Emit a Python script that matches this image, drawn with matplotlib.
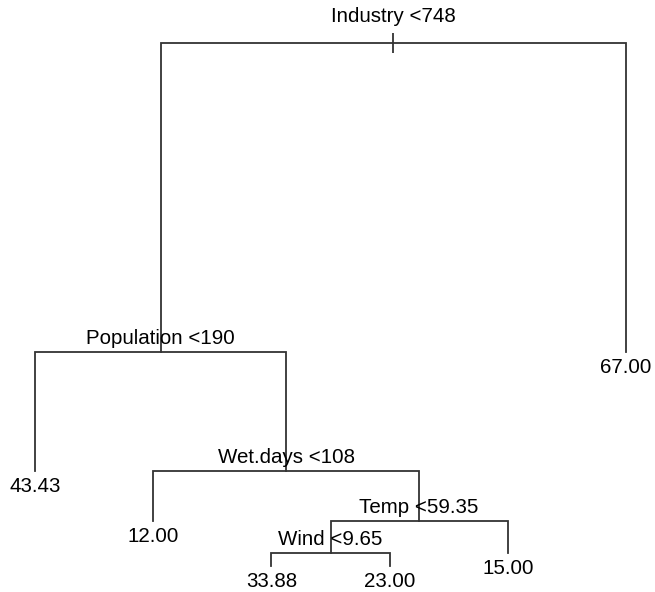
import matplotlib
matplotlib.use('Agg')
import matplotlib.pyplot as plt

plt.rcParams['font.family'] = ['Liberation Sans', 'DejaVu Sans']

# split nodes (label, deviance used as height, children)
node_names = ['Industry <748', 'Population <190', 'Wet.days <108', 'Temp <59.35', 'Wind <9.65']
node_dev = [22040, 9350, 4470, 2420, 1110]
node_left = ['Population <190', '43.43', '12.00', 'Wind <9.65', '33.88']
node_right = ['67.00', 'Wet.days <108', 'Temp <59.35', '15.00', '23.00']

# leaves, left to right
leaf_values = [43.43, 12.00, 33.88, 23.00, 15.00, 67.00]
leaf_dev = [4470, 2420, 575, 575, 1110, 9350]

LINE = '#333333'
FS = 14.8


def layout():
	pos = {}
	for i, (v, d) in enumerate(zip(leaf_values, leaf_dev)):
		pos[f'{v:.2f}'] = (i + 1, d)

	def get_x(name):
		if name in pos:
			return pos[name][0]
		i = node_names.index(name)
		x = (get_x(node_left[i]) + get_x(node_right[i])) / 2
		pos[name] = (x, node_dev[i])
		return x

	get_x(node_names[0])
	return pos


def main():
	pos = layout()
	fig = plt.figure(figsize=(6.55, 5.92), dpi=100)
	ax = fig.add_axes([0, 0, 1, 1])
	ax.set_xlim(0.704, 6.245)
	ax.set_ylim(-492, 23805)
	ax.axis('off')

	for i, name in enumerate(node_names):
		x, y = pos[name]
		xl, yl = pos[node_left[i]]
		xr, yr = pos[node_right[i]]
		ax.plot([xl, xl, xr, xr], [yl, y, y, yr], color=LINE, lw=1.3, solid_joinstyle='miter')
		off = 15 if i == 0 else 5.8
		ax.annotate(name, (x, y), xytext=(0, off), textcoords='offset points',
					ha='center', va='baseline', fontsize=FS)

	# little tick on the root
	x0, y0 = pos[node_names[0]]
	ax.plot([x0], [y0], marker='|', markersize=14, color=LINE, mew=1.3)

	for v in leaf_values:
		lab = f'{v:.2f}'
		x, y = pos[lab]
		ax.annotate(lab, (x, y), xytext=(0, -15), textcoords='offset points',
					ha='center', va='baseline', fontsize=FS)

	fig.savefig('out.png', dpi=100)


if __name__ == '__main__':
	main()
